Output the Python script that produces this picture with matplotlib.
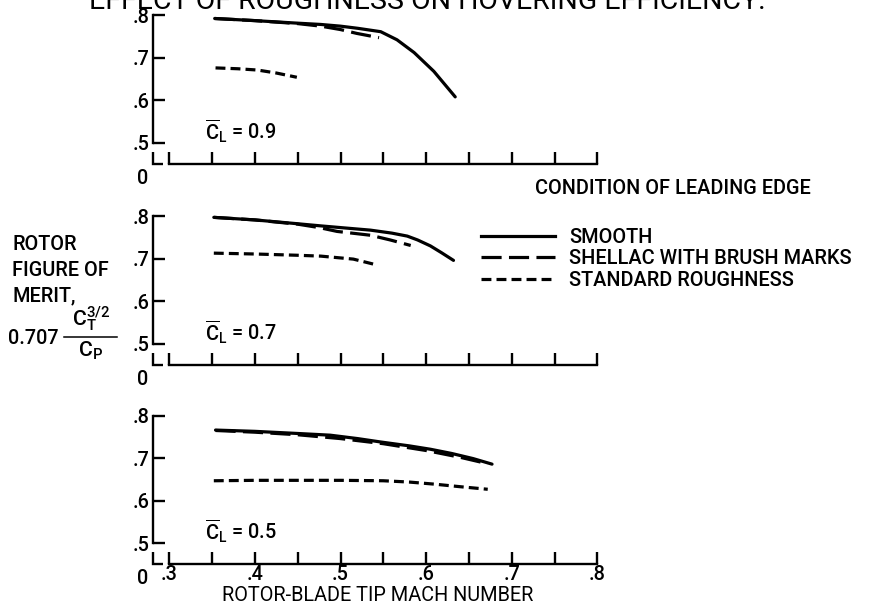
import matplotlib
matplotlib.use('Agg')
import matplotlib.pyplot as plt
from matplotlib import font_manager
from matplotlib.lines import Line2D

# ---------------------------------------------------------------------------
# Data
# ---------------------------------------------------------------------------
panel_labels = ['0.9', '0.7', '0.5']

# C_L = 0.9
smooth_x_09 = [0.353, 0.400, 0.450, 0.477, 0.500, 0.520, 0.547, 0.566, 0.586, 0.609, 0.634]
smooth_y_09 = [0.792, 0.787, 0.781, 0.778, 0.774, 0.769, 0.761, 0.742, 0.712, 0.668, 0.608]
shellac_x_09 = [0.353, 0.400, 0.450, 0.477, 0.500, 0.519, 0.545]
shellac_y_09 = [0.792, 0.787, 0.780, 0.774, 0.766, 0.757, 0.747]
rough_x_09 = [0.354, 0.380, 0.403, 0.425, 0.449]
rough_y_09 = [0.676, 0.674, 0.671, 0.664, 0.654]

# C_L = 0.7
smooth_x_07 = [0.352, 0.400, 0.450, 0.477, 0.500, 0.535, 0.560, 0.578, 0.590, 0.605, 0.618, 0.632]
smooth_y_07 = [0.797, 0.791, 0.782, 0.777, 0.773, 0.767, 0.760, 0.753, 0.744, 0.730, 0.714, 0.696]
shellac_x_07 = [0.352, 0.400, 0.450, 0.475, 0.496, 0.535, 0.558, 0.582]
shellac_y_07 = [0.797, 0.791, 0.781, 0.773, 0.764, 0.755, 0.744, 0.731]
rough_x_07 = [0.352, 0.400, 0.450, 0.477, 0.515, 0.539]
rough_y_07 = [0.713, 0.711, 0.708, 0.706, 0.699, 0.687]

# C_L = 0.5
smooth_x_05 = [0.354, 0.400, 0.450, 0.488, 0.520, 0.547, 0.580, 0.605, 0.630, 0.655, 0.677]
smooth_y_05 = [0.766, 0.763, 0.758, 0.754, 0.746, 0.738, 0.729, 0.721, 0.711, 0.699, 0.686]
shellac_x_05 = [0.354, 0.400, 0.450, 0.500, 0.550, 0.600, 0.640, 0.672]
shellac_y_05 = [0.765, 0.761, 0.755, 0.746, 0.734, 0.718, 0.702, 0.687]
rough_x_05 = [0.352, 0.400, 0.450, 0.500, 0.550, 0.580, 0.610, 0.640, 0.672]
rough_y_05 = [0.647, 0.648, 0.648, 0.648, 0.647, 0.644, 0.639, 0.633, 0.627]

panels = [
    (smooth_x_09, smooth_y_09, shellac_x_09, shellac_y_09, rough_x_09, rough_y_09),
    (smooth_x_07, smooth_y_07, shellac_x_07, shellac_y_07, rough_x_07, rough_y_07),
    (smooth_x_05, smooth_y_05, shellac_x_05, shellac_y_05, rough_x_05, rough_y_05),
]

series_names = ['SMOOTH', 'SHELLAC WITH BRUSH MARKS', 'STANDARD ROUGHNESS']
x_ticks = [0.30, 0.35, 0.40, 0.45, 0.50, 0.55, 0.60, 0.65, 0.70, 0.75, 0.80]
x_ticklabels = ['.3', '', '.4', '', '.5', '', '.6', '', '.7', '', '.8']
y_ticks = [0.5, 0.6, 0.7, 0.8]
y_ticklabels = ['.5', '.6', '.7', '.8']

# ---------------------------------------------------------------------------
# Font: the scan uses a narrow, heavy sans; Roboto is the closest installed
# ---------------------------------------------------------------------------
fonts = font_manager.fontManager.ttflist
if any(f.name == 'Roboto' for f in fonts):
    FAMILY, FS = 'Roboto', 14.3
    WEIGHT = 'medium' if any(f.name == 'Roboto' and f.weight == 500 for f in fonts) else 'normal'
else:
    FAMILY, FS, WEIGHT = 'DejaVu Sans', 13.0, 'normal'

plt.rcParams['font.family'] = [FAMILY, 'DejaVu Sans']
plt.rcParams['font.weight'] = WEIGHT
plt.rcParams['mathtext.fontset'] = 'custom'
plt.rcParams['mathtext.rm'] = f'{FAMILY}:weight={WEIGHT}'
plt.rcParams['mathtext.it'] = f'{FAMILY}:weight={WEIGHT}'
plt.rcParams['mathtext.bf'] = f'{FAMILY}:weight=bold'

LW = 2.3
AX_LW = 1.7
styles = [
    dict(linestyle='-'),
    dict(linestyle=(0, (6.3, 2.3))),
    dict(linestyle=(0, (3.1, 1.6))),
]

W, H = 869, 614
fig = plt.figure(figsize=(W / 100, H / 100), dpi=100)

X0, X1 = 0.2813, 0.805
Y0, Y1 = 0.4516, 0.805
PX_X = 856.0   # pixels per unit mach number
PX_Y = 426.0   # pixels per unit figure of merit
left_px = 153.3
corners_px = [163.5, 364.5, 564.0]
ax_w = (X1 - X0) * PX_X / W
ax_h = (Y1 - Y0) * PX_Y / H

for i, (sx, sy, hx, hy, rx, ry) in enumerate(panels):
    ax = fig.add_axes([left_px / W, 1 - corners_px[i] / H, ax_w, ax_h])
    ax.plot(sx, sy, color='black', lw=LW, clip_on=False, solid_capstyle='round', **styles[0])
    ax.plot(hx, hy, color='black', lw=LW, clip_on=False, **styles[1])
    ax.plot(rx, ry, color='black', lw=LW, clip_on=False, **styles[2])

    ax.set_xlim(X0, X1)
    ax.set_ylim(Y0, Y1)
    for s in ['top', 'right']:
        ax.spines[s].set_visible(False)
    ax.spines['left'].set_bounds(0.5, 0.8)
    ax.spines['bottom'].set_bounds(0.3, 0.8)
    ax.spines['left'].set_linewidth(AX_LW)
    ax.spines['bottom'].set_linewidth(AX_LW)
    # broken-axis corner piece
    ax.plot([X0, X0, 0.2927], [0.479, Y0, Y0], color='black', lw=AX_LW,
            clip_on=False, solid_capstyle='butt', solid_joinstyle='miter')

    ax.set_xticks(x_ticks)
    ax.set_yticks(y_ticks)
    ax.set_yticklabels(y_ticklabels)
    if i == 2:
        ax.set_xticklabels(x_ticklabels)
        ax.set_xlabel('ROTOR-BLADE TIP MACH NUMBER', fontsize=FS, labelpad=1)
    else:
        ax.set_xticklabels([])
    ax.tick_params(axis='both', direction='in', length=8.5, width=AX_LW,
                   labelsize=FS, pad=3)
    ax.tick_params(axis='x', pad=1)
    ax.text(-0.012, -0.035, '0', transform=ax.transAxes, fontsize=FS,
            ha='right', va='top')
    ax.text(0.342, 0.508, r'$\overline{\mathrm{C}}_{\mathrm{L}}$' + ' = ' + panel_labels[i],
            fontsize=FS, ha='left', va='baseline')

# y label block
fig.text(12 / W, 1 - 244 / H, 'ROTOR', fontsize=FS, ha='left', va='center')
fig.text(12 / W, 1 - 270 / H, 'FIGURE OF', fontsize=FS, ha='left', va='center')
fig.text(12 / W, 1 - 296 / H, 'MERIT,', fontsize=FS, ha='left', va='center')
fig.text(8 / W, 1 - 338 / H, '0.707', fontsize=FS, ha='left', va='center')
fig.text(91 / W, 1 - 334 / H, r'$\mathrm{C_T^{3/2}}$', fontsize=FS + 1,
         ha='center', va='bottom')
fig.text(91 / W, 1 - 340 / H, r'$\mathrm{C_P}$', fontsize=FS + 1,
         ha='center', va='top')
fig.add_artist(Line2D([64 / W, 117 / W], [1 - 337 / H, 1 - 337 / H],
                      color='black', lw=1.1))

# legend
handles = [Line2D([], [], color='black', lw=LW, **st) for st in styles]
fig.text(535 / W, 1 - 189 / H, 'CONDITION OF LEADING EDGE', fontsize=FS,
         ha='left', va='center')
fig.legend(handles, series_names, loc='upper left',
           bbox_to_anchor=(481 / W, 1 - 228 / H), frameon=False,
           fontsize=FS, handlelength=74 / (FS * 100 / 72), handletextpad=0.7,
           labelspacing=0.12, borderpad=0, borderaxespad=0)

# title (clipped at top edge, as in the source scan)
fig.text(427 / W, 1 - 9 / H, 'EFFECT OF ROUGHNESS ON HOVERING EFFICIENCY.',
         fontsize=20.5, fontweight='normal', ha='center', va='baseline')

fig.savefig('out.png', dpi=100)
